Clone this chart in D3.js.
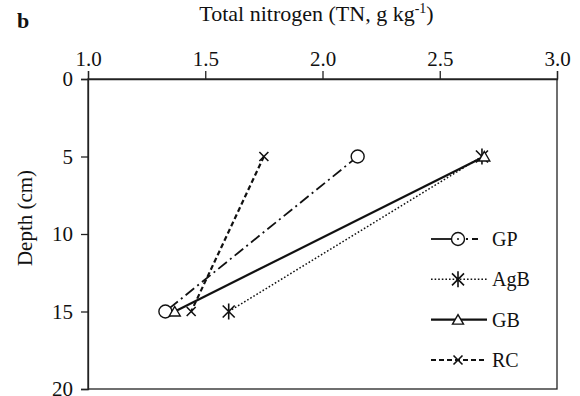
<!DOCTYPE html>
<html>
<head>
<meta charset="utf-8">
<script src="https://cdn.jsdelivr.net/npm/d3@7"></script>
<style>
  body { margin: 0; background: #fff; }
  text { font-family: "Liberation Serif", "Times New Roman", serif; fill: #111; }
</style>
</head>
<body>
<div id="chart"></div>
<script>
// depths sampled (cm)
var depths = [5, 15];

// total nitrogen by land use, g/kg
var seriesNames = ['GP', 'AgB', 'GB', 'RC'];
var gpValues  = [2.15, 1.33];
var agbValues = [2.68, 1.60];
var gbValues  = [2.69, 1.37];
var rcValues  = [1.75, 1.44];

var xTicks = [1.0, 1.5, 2.0, 2.5, 3.0];
var yTicks = [0, 5, 10, 15, 20];

var margin = { top: 79, right: 23, bottom: 7, left: 88 };
var width = 580 - margin.left - margin.right,
    height = 396 - margin.top - margin.bottom;

var svg = d3.select('#chart')
    .append('svg')
    .attr('width', 580)
    .attr('height', 396);

var g = svg.append('g')
    .attr('transform', 'translate(' + margin.left + ',' + margin.top + ')');

var x = d3.scaleLinear().domain([1, 3]).range([0, width]);
var y = d3.scaleLinear().domain([0, 20]).range([0, height]);

// frame
g.append('rect')
    .attr('width', width)
    .attr('height', height)
    .attr('fill', 'none')
    .attr('stroke', '#222')
    .attr('stroke-width', 1.3);

// axes
var xAxis = d3.axisTop(x).tickValues(xTicks).tickFormat(d3.format('.1f')).tickSize(8).tickPadding(5);
var yAxis = d3.axisLeft(y).tickValues(yTicks).tickSize(7).tickPadding(8);

var gx = g.append('g').attr('class', 'axis').call(xAxis);
var gy = g.append('g').attr('class', 'axis').call(yAxis);

[gx, gy].forEach(function(a) {
    a.attr('font-family', null).attr('font-size', null);
    a.select('.domain').attr('stroke', '#222').attr('stroke-width', 1.3);
    a.selectAll('.tick line').attr('stroke', '#222').attr('stroke-width', 1.3);
    a.selectAll('.tick text')
        .attr('font-size', 21)
        .attr('fill', '#111');
});

// axis labels
var title = svg.append('text')
    .attr('x', margin.left + width / 2 - 6)
    .attr('y', 21)
    .attr('text-anchor', 'middle')
    .attr('font-size', 22);
title.append('tspan').text('Total nitrogen (TN, g kg');
title.append('tspan').attr('font-size', 14).attr('dy', -8).text('-1');
title.append('tspan').attr('dy', 8).text(')');

svg.append('text')
    .attr('x', 17)
    .attr('y', 28)
    .attr('font-size', 22)
    .attr('font-weight', 'bold')
    .text('b');

svg.append('text')
    .attr('transform', 'translate(32,218) rotate(-90)')
    .attr('text-anchor', 'middle')
    .attr('font-size', 21)
    .text('Depth (cm)');

// series styles
var styles = {
    GP:  { values: gpValues,  dash: '11,4,2,4', width: 1.8, marker: 'circle' },
    AgB: { values: agbValues, dash: '1.6,2',    width: 1.5, marker: 'star' },
    GB:  { values: gbValues,  dash: null,       width: 2.2, marker: 'triangle' },
    RC:  { values: rcValues,  dash: '5,3',      width: 2.2, marker: 'cross' }
};

function drawMarker(sel, type) {
    if (type === 'circle') {
        sel.append('circle').attr('r', 6.5)
            .attr('fill', '#fff').attr('stroke', '#111').attr('stroke-width', 1.4);
    } else if (type === 'triangle') {
        sel.append('path').attr('d', 'M0,-5L5.5,4.5L-5.5,4.5Z')
            .attr('fill', '#fff').attr('stroke', '#111').attr('stroke-width', 1.4);
    } else if (type === 'star') {
        sel.append('path').attr('d', 'M-6,-6L6,6M-6,6L6,-6M0,-8L0,8')
            .attr('fill', 'none').attr('stroke', '#111').attr('stroke-width', 1.6);
    } else if (type === 'cross') {
        sel.append('path').attr('d', 'M-4.5,-4.5L4.5,4.5M-4.5,4.5L4.5,-4.5')
            .attr('fill', 'none').attr('stroke', '#111').attr('stroke-width', 1.6);
    }
}

var line = d3.line()
    .x(function(d) { return x(d.v); })
    .y(function(d) { return y(d.depth); });

// draw in order so that GB solid line sits above dotted AgB
['RC', 'GP', 'AgB', 'GB'].forEach(function(name) {
    var s = styles[name];
    var pts = depths.map(function(dp, i) { return { depth: dp, v: s.values[i] }; });

    g.append('path')
        .datum(pts)
        .attr('fill', 'none')
        .attr('stroke', '#111')
        .attr('stroke-width', s.width)
        .attr('stroke-dasharray', s.dash)
        .attr('d', line);

    pts.forEach(function(p) {
        var m = g.append('g')
            .attr('transform', 'translate(' + x(p.v) + ',' + y(p.depth) + ')');
        drawMarker(m, s.marker);
    });
});

// legend
var legendY = d3.scalePoint().domain(seriesNames).range([239, 360]);
seriesNames.forEach(function(name) {
    var s = styles[name];
    var ly = legendY(name);
    var lg = svg.append('g').attr('transform', 'translate(0,' + ly + ')');
    if (name === 'GP') {
        lg.append('line').attr('x1', 431).attr('x2', 452).attr('y1', 0).attr('y2', 0)
            .attr('stroke', '#111').attr('stroke-width', s.width);
        lg.append('line').attr('x1', 466).attr('x2', 487).attr('y1', 0).attr('y2', 0)
            .attr('stroke', '#111').attr('stroke-width', s.width)
            .attr('stroke-dasharray', '2,4,6,20');
    } else {
        lg.append('line').attr('x1', 431).attr('x2', 487).attr('y1', 0).attr('y2', 0)
            .attr('stroke', '#111').attr('stroke-width', s.width)
            .attr('stroke-dasharray', s.dash);
    }
    var mk = lg.append('g').attr('transform', 'translate(458,0)');
    drawMarker(mk, s.marker);
    if (name === 'GP') {
        mk.append('circle').attr('r', 1).attr('fill', '#111');
    }
    lg.append('text')
        .attr('x', 492)
        .attr('y', 7)
        .attr('font-size', 20)
        .text(name);
});
</script>
</body>
</html>
